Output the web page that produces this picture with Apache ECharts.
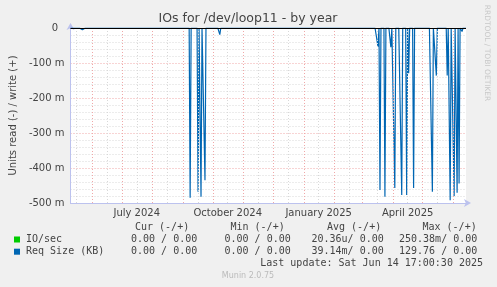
<!DOCTYPE html>
<html><head><meta charset="utf-8">
<script src="https://cdn.jsdelivr.net/npm/echarts@6/dist/echarts.min.js"></script>
<style>html,body{margin:0;padding:0;background:#f0f0f0}#c{width:497px;height:287px}</style>
</head><body><div id="c"></div>
<script>
// ---- data (read side, milli-units; daily resolution) ----
const spikeDates = ['2024-05-22','2024-09-08','2024-09-16','2024-09-19','2024-09-23','2024-10-08',
  '2025-03-17','2025-03-19','2025-03-24','2025-03-30','2025-04-03','2025-04-10','2025-04-15',
  '2025-04-17','2025-04-22','2025-05-11','2025-05-15','2025-05-26','2025-05-29','2025-06-02',
  '2025-06-05','2025-06-07','2025-06-10'];
const reqSizeRead = [-5,-485,-468,-482,-435,-19,
  -53,-463,-482,-55,-457,-477,-477,
  -129,-457,-468,-136,-136,-492,-480,
  -471,-444,-10];
const xTickDates = ['2024-07-16','2024-10-16','2025-01-16','2025-04-16'];
const xTickLabels = ['July 2024','October 2024','January 2025','April 2025'];
const monthStarts = ['2024-06-01','2024-07-01','2024-08-01','2024-09-01','2024-10-01','2024-11-01','2024-12-01',
  '2025-01-01','2025-02-01','2025-03-01','2025-04-01','2025-05-01','2025-06-01'];
const midMonths = ['2024-05-16','2024-06-16','2024-07-16','2024-08-16','2024-09-16','2024-10-16','2024-11-16',
  '2024-12-16','2025-01-16','2025-02-16','2025-03-16','2025-04-16','2025-05-16'];
const legendNames = ['IO/sec','Req Size (KB)'];
const legendColors = ['#00cc00','#0066b3'];
const curVals = ['0.00 / 0.00','0.00 / 0.00'];
const minVals = ['0.00 / 0.00','0.00 / 0.00'];
const avgVals = ['20.36u/ 0.00','39.14m/ 0.00'];
const maxVals = ['250.38m/ 0.00','129.76 / 0.00'];
const headers = ['Cur (-/+)','Min (-/+)','Avg (-/+)','Max (-/+)'];
const title = 'IOs for /dev/loop11 - by year';
const lastUpdate = 'Last update: Sat Jun 14 17:00:30 2025';

// ---- build ----
const DAY = 86400000;
const startTs = Date.UTC(2024,4,10,17,0,0);
const endTs = Date.UTC(2025,5,14,17,0,0);
const ts = d => { const p = d.split('-').map(Number); return Date.UTC(p[0], p[1]-1, p[2], 17, 0, 0); };
const spikeMap = {};
spikeDates.forEach((d,i)=>{ spikeMap[ts(d)] = reqSizeRead[i]; });
const reqData = [];
for (let t = startTs; t <= endTs; t += DAY) reqData.push([t, spikeMap[t] !== undefined ? spikeMap[t] : 0]);
const tickTs = xTickDates.map(ts);

const chart = echarts.init(document.getElementById('c'), null, {renderer:'canvas'});
const font = 'DejaVu Sans';
const txt = '#444';
const axisCol = '#bcc2ee';

const graphic = [
  {type:'text', x:248, y:19, style:{text:title, font:'12.5px "DejaVu Sans"', fill:'#444', align:'center', verticalAlign:'middle'}},
  {type:'text', x:487, y:53, rotation:-Math.PI/2, style:{text:'RRDTOOL / TOBI OETIKER', font:'7.5px "DejaVu Sans"', fill:'#c8c8c8', align:'center', verticalAlign:'middle'}},
  {type:'text', x:248, y:276, style:{text:'Munin 2.0.75', font:'8px "DejaVu Sans"', fill:'#bbbbbb', align:'center', verticalAlign:'middle'}},
  {type:'text', x:483, y:263, style:{text:lastUpdate, font:'10px "DejaVu Sans Mono"', fill:txt, align:'right', verticalAlign:'middle'}}
];
const headerX = [135, 230.5, 327, 422.5];
headers.forEach((h,i)=>graphic.push({type:'text', x:headerX[i], y:227, style:{text:h, font:'10px "DejaVu Sans Mono"', fill:txt, align:'left', verticalAlign:'middle'}}));
const colX = [131, 224.5, 311.5, 399];
legendNames.forEach((n,r)=>{
  const y = 239.5 + r*12.2;
  graphic.push({type:'rect', shape:{x:14, y:y-3, width:6, height:6}, style:{fill:legendColors[r]}});
  graphic.push({type:'text', x:26, y:y, style:{text:n, font:'10px "DejaVu Sans Mono"', fill:txt, align:'left', verticalAlign:'middle'}});
  [curVals, minVals, avgVals, maxVals].forEach((arr,c)=>{
    graphic.push({type:'text', x:colX[c], y:y, style:{text:arr[r], font:'10px "DejaVu Sans Mono"', fill:txt, align:'left', verticalAlign:'middle'}});
  });
});

const vLine = (dates, color) => ({
  type:'line', data:[], z:1, silent:true, animation:false,
  markLine:{silent:true, symbol:['none','none'], label:{show:false}, animation:false,
    lineStyle:{color:color, type:[1,2], width:1}, emphasis:{disabled:true},
    data: dates.map(d=>({xAxis: ts(d)}))}
});

chart.setOption({
  backgroundColor:'#f0f0f0',
  animation:false,
  grid:{left:66, right:31, top:28, bottom:84, show:true, backgroundColor:'#ffffff', borderWidth:0},
  xAxis:{type:'value', min:startTs, max:endTs, scale:true,
    axisLine:{show:true, onZero:false, lineStyle:{color:axisCol}, symbol:['none','arrow'], symbolSize:[6,7], symbolOffset:[0,5]},
    axisTick:{show:false}, splitLine:{show:false},
    axisLabel:{customValues:tickTs, margin:5, color:txt, fontFamily:font, fontSize:10, hideOverlap:false,
      formatter:(v)=>{ let best=0, bd=Infinity; tickTs.forEach((t,i)=>{const d=Math.abs(t-v); if(d<bd){bd=d;best=i;}}); return bd < 5*DAY ? xTickLabels[best] : ''; }}
  },
  yAxis:{type:'value', min:-500, max:0, interval:100,
    name:'Units read (-) / write (+)', nameLocation:'middle', nameRotate:90, nameGap:50,
    nameTextStyle:{color:txt, fontFamily:font, fontSize:10},
    axisLine:{show:true, onZero:false, lineStyle:{color:axisCol}, symbol:['none','arrow'], symbolSize:[6,7], symbolOffset:[0,5]},
    axisTick:{show:false},
    axisLabel:{margin:6, color:txt, fontFamily:font, fontSize:10, formatter:(v)=> v===0 ? '0  ' : v+' m'},
    splitLine:{show:true, lineStyle:{color:'#f0a8a8', type:[1,2], width:1}},
    minorTick:{show:false, splitNumber:5},
    minorSplitLine:{show:true, lineStyle:{color:'#d8d8d8', type:[1,2], width:1}}
  },
  series:[
    vLine(midMonths, '#d8d8d8'),
    vLine(monthStarts, '#f0a8a8'),
    {type:'line', name:'Req Size (KB)', data:reqData, showSymbol:false, symbol:'none', z:3,
      lineStyle:{color:'#0066b3', width:1.2}, itemStyle:{color:'#0066b3'},
      markLine:{silent:true, symbol:['none','none'], label:{show:false}, animation:false,
        lineStyle:{color:'#000', type:'solid', width:1}, data:[{yAxis:0}]}}
  ],
  graphic: graphic
});
</script></body></html>
